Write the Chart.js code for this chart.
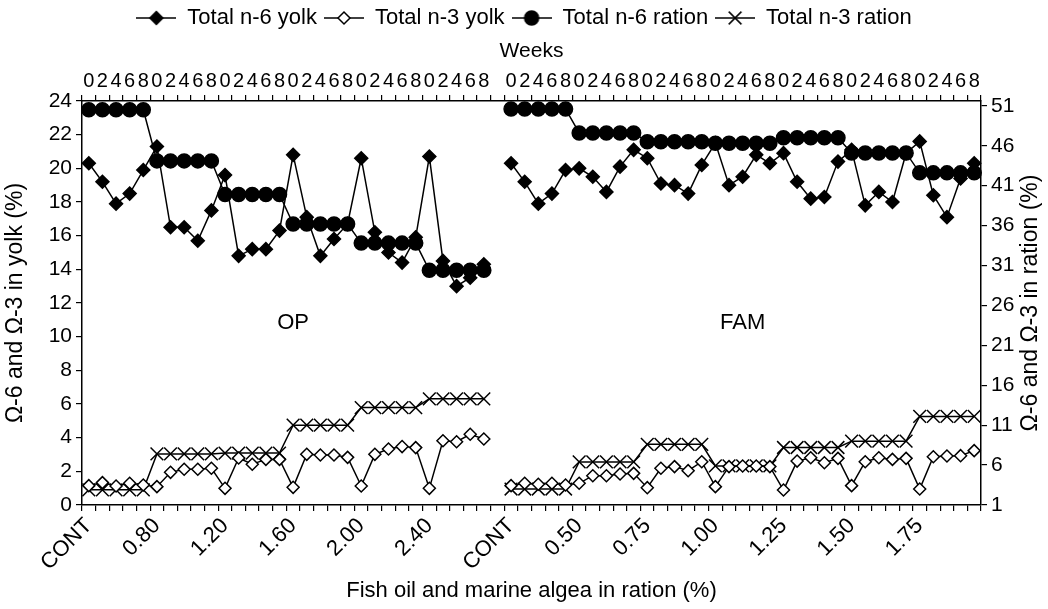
<!DOCTYPE html>
<html>
<head>
<meta charset="utf-8">
<script src="https://cdn.jsdelivr.net/npm/chart.js@4.4.1/dist/chart.umd.min.js"></script>
<style>
  html, body { margin: 0; padding: 0; background: #fff; }
  #wrap { width: 1048px; height: 609px; }
</style>
</head>
<body>
<div id="wrap"><canvas id="fattyChart" width="1048" height="609"></canvas></div>
<script>
const weeks = ["0", "2", "4", "6", "8"];
const opDoses = ["CONT", "0.80", "1.20", "1.60", "2.00", "2.40"];
const famDoses = ["CONT", "0.50", "0.75", "1.00", "1.25", "1.50", "1.75"];
const panelNames = ["OP", "FAM"];

// yolk (%), left axis
const opN6Yolk = [20.3, 19.2, 17.9, 18.5, 19.9, 21.3, 16.5, 16.5, 15.7, 17.5,
  19.6, 14.8, 15.2, 15.2, 16.3, 20.8, 17.1, 14.8, 15.8, 16.7,
  20.6, 16.2, 15.0, 14.4, 15.9, 20.7, 14.5, 13.0, 13.5, 14.3];
const famN6Yolk = [20.3, 19.2, 17.9, 18.5, 19.9, 20.0, 19.5, 18.6, 20.1, 21.1,
  20.6, 19.1, 19.0, 18.5, 20.2, 21.5, 19.0, 19.5, 20.8, 20.3,
  20.9, 19.2, 18.2, 18.3, 20.4, 21.1, 17.8, 18.6, 18.0, 20.9,
  21.6, 18.4, 17.1, 19.4, 20.3];
const opN3Yolk = [1.15, 1.33, 1.13, 1.29, 1.19, 1.09, 1.94, 2.12, 2.12, 2.18,
  0.99, 2.79, 2.42, 2.71, 2.71, 1.05, 3.01, 2.97, 2.97, 2.83,
  1.13, 3.01, 3.33, 3.47, 3.41, 0.99, 3.82, 3.76, 4.2, 3.92];
const famN3Yolk = [1.15, 1.29, 1.23, 1.29, 1.19, 1.29, 1.74, 1.74, 1.84, 1.88,
  1.03, 2.18, 2.28, 2.04, 2.57, 1.09, 2.28, 2.32, 2.32, 2.28,
  0.89, 2.61, 2.81, 2.51, 2.77, 1.15, 2.57, 2.81, 2.71, 2.77,
  0.95, 2.87, 2.91, 2.93, 3.23];

// ration (%), right axis
const opN6Ration = [50.5, 50.5, 50.5, 50.5, 50.5, 44.1, 44.1, 44.1, 44.1, 44.1,
  39.9, 39.9, 39.9, 39.9, 39.9, 36.2, 36.2, 36.2, 36.2, 36.2,
  33.8, 33.8, 33.8, 33.8, 33.8, 30.4, 30.4, 30.4, 30.4, 30.4];
const famN6Ration = [50.6, 50.6, 50.6, 50.6, 50.6, 47.6, 47.6, 47.6, 47.6, 47.6,
  46.5, 46.5, 46.5, 46.5, 46.5, 46.3, 46.3, 46.3, 46.3, 46.3,
  47.0, 47.0, 47.0, 47.0, 47.0, 45.1, 45.1, 45.1, 45.1, 45.1,
  42.6, 42.6, 42.6, 42.6, 42.6];
const opN3Ration = [2.9, 2.9, 2.9, 2.9, 2.9, 7.4, 7.4, 7.4, 7.4, 7.4,
  7.5, 7.5, 7.5, 7.5, 7.5, 11.0, 11.0, 11.0, 11.0, 11.0,
  13.2, 13.2, 13.2, 13.2, 13.2, 14.3, 14.3, 14.3, 14.3, 14.3];
const famN3Ration = [3.0, 3.0, 3.0, 3.0, 3.0, 6.4, 6.4, 6.4, 6.4, 6.4,
  8.6, 8.6, 8.6, 8.6, 8.6, 5.9, 5.9, 5.9, 5.9, 5.9,
  8.2, 8.2, 8.2, 8.2, 8.2, 9.0, 9.0, 9.0, 9.0, 9.0,
  12.1, 12.1, 12.1, 12.1, 12.1];

const rationTicks = [1, 6, 11, 16, 21, 26, 31, 36, 41, 46, 51];

// one empty slot between the two panels
function joinPanels(a, b) { return a.concat([null], b); }

const doseLabels = [];
const weekLabels = [];
[opDoses, null, famDoses].forEach(function (doses) {
  if (!doses) { doseLabels.push(""); weekLabels.push(""); return; }
  doses.forEach(function (d) {
    weeks.forEach(function (w, i) {
      doseLabels.push(i === 0 ? d : "");
      weekLabels.push(w);
    });
  });
});

Chart.defaults.font.family = "'Liberation Sans', Arial, sans-serif";
Chart.defaults.color = "#000";

function legendSymbol(style, radius, fill) {
  const c = document.createElement("canvas");
  c.width = 40; c.height = 20;
  const g = c.getContext("2d");
  g.strokeStyle = "#000"; g.lineWidth = 1.5;
  g.beginPath(); g.moveTo(0, 10); g.lineTo(40, 10); g.stroke();
  g.fillStyle = fill;
  Chart.helpers.drawPoint(g, { pointStyle: style, radius: radius, borderWidth: 1.5, rotation: 0 }, 20, 10);
  return c;
}

const series = [
  { label: "Total n-6 yolk", data: joinPanels(opN6Yolk, famN6Yolk), axis: "y", style: "rectRot", r: 6.5, fill: "#000" },
  { label: "Total n-3 yolk", data: joinPanels(opN3Yolk, famN3Yolk), axis: "y", style: "rectRot", r: 6, fill: "#fff" },
  { label: "Total n-6 ration", data: joinPanels(opN6Ration, famN6Ration), axis: "y1", style: "circle", r: 7, fill: "#000" },
  { label: "Total n-3 ration", data: joinPanels(opN3Ration, famN3Ration), axis: "y1", style: "crossRot", r: 9, fill: "#000" }
];

const panelText = {
  id: "panelText",
  afterDraw(chart) {
    const ctx = chart.ctx;
    const x = chart.scales.x, y = chart.scales.y;
    ctx.save();
    ctx.fillStyle = "#000";
    ctx.font = "22px 'Liberation Sans', Arial, sans-serif";
    ctx.textAlign = "center";
    ctx.textBaseline = "middle";
    ctx.fillText(panelNames[0], x.getPixelForValue(15), y.getPixelForValue(10.8));
    ctx.fillText(panelNames[1], x.getPixelForValue(48), y.getPixelForValue(10.8));
    // right axis title, reading bottom to top like the left one
    const a = chart.chartArea;
    ctx.translate(chart.width - 17, (a.top + a.bottom) / 2);
    ctx.rotate(-Math.PI / 2);
    ctx.font = "23px 'Liberation Sans', Arial, sans-serif";
    ctx.fillText("\u03A9-6 and \u03A9-3 in ration (%)", 0, 0);
    ctx.restore();
  }
};

const axisGrid = { drawOnChartArea: false, color: "#000", lineWidth: 1.2, tickLength: 6 };

new Chart(document.getElementById("fattyChart"), {
  type: "line",
  data: {
    labels: doseLabels,
    datasets: series.map(function (s) {
      return {
        label: s.label,
        data: s.data,
        yAxisID: s.axis,
        borderColor: "#000",
        borderWidth: 1.5,
        pointStyle: s.style,
        pointRadius: s.r,
        pointBackgroundColor: s.fill,
        pointBorderColor: "#000",
        pointBorderWidth: 1.5,
        tension: 0,
        spanGaps: false
      };
    })
  },
  options: {
    responsive: false,
    animation: false,
    layout: { padding: 0 },
    plugins: {
      tooltip: { enabled: false },
      legend: {
        position: "top",
        labels: {
          usePointStyle: true,
          pointStyleWidth: 40,
          padding: 7,
          font: { size: 22 },
          generateLabels: function () {
            return series.map(function (s, i) {
              return {
                text: s.label,
                datasetIndex: i,
                pointStyle: legendSymbol(s.style, s.r, s.fill),
                fillStyle: s.fill,
                strokeStyle: "#000",
                lineWidth: 0,
                hidden: false,
                fontColor: "#000"
              };
            });
          }
        }
      }
    },
    scales: {
      x: {
        type: "category",
        position: "bottom",
        offset: true,
        grid: Object.assign({ offset: true }, axisGrid),
        border: { color: "#000", width: 1.5 },
        ticks: { autoSkip: false, minRotation: 45, maxRotation: 45, font: { size: 22 }, padding: 2 },
        title: { display: true, text: "Fish oil and marine algea in ration (%)", font: { size: 22 }, padding: { top: 0, bottom: 5 } },
        afterFit: function (s) { s.height = 104; }
      },
      x2: {
        type: "category",
        position: "top",
        labels: weekLabels,
        offset: true,
        grid: Object.assign({ offset: true }, axisGrid),
        border: { color: "#000", width: 1.5 },
        ticks: { autoSkip: false, minRotation: 0, maxRotation: 0, font: { size: 20 }, padding: 2 },
        title: { display: true, text: "Weeks", font: { size: 21 }, padding: { top: 0, bottom: 2 } },
        afterFit: function (s) {
          const lg = s.chart.legend ? s.chart.legend.height : 0;
          s.height = 101 - lg;
        }
      },
      y: {
        position: "left",
        min: 0,
        max: 24,
        grid: axisGrid,
        border: { color: "#000", width: 1.5 },
        ticks: { stepSize: 2, font: { size: 21 }, padding: 4 },
        title: { display: true, text: "\u03A9-6 and \u03A9-3 in yolk (%)", font: { size: 23 }, padding: { top: 2, bottom: 2 } },
        afterFit: function (s) { s.width = 82; }
      },
      y1: {
        position: "right",
        min: 1,
        max: 51.6,
        grid: axisGrid,
        border: { color: "#000", width: 1.5 },
        ticks: { font: { size: 21 }, padding: 4 },
        afterBuildTicks: function (s) { s.ticks = rationTicks.map(function (v) { return { value: v }; }); },
        afterFit: function (s) { s.width = 67; }
      }
    }
  },
  plugins: [panelText]
});
</script>
</body>
</html>
